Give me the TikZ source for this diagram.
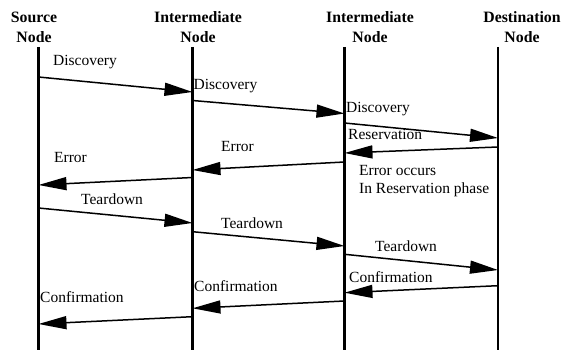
\documentclass[tikz,border=0pt]{standalone}
\usepackage{fontspec}
\setmainfont{Liberation Serif}
\usetikzlibrary{arrows.meta}
\tikzset{
  lifeline/.style = {line width=2.6pt},
  msg/.style = {line width=1.5pt, -{Triangle[length=28pt,width=13pt]}},
  msglabel/.style = {anchor=west, inner sep=0pt, text height=0.7em, text depth=0.2em,
    font=\fontsize{15.5}{18}\selectfont},
  header/.style = {align=center, inner sep=0pt, font=\bfseries\fontsize{15.8}{20}\selectfont}
}
\begin{document}
\begin{tikzpicture}[x=1pt, y=-1pt]
  \useasboundingbox (0,0) rectangle (563,350);
  % participants
  \node[header] (src) at (34,27)  {Source\\Node};
  \node[header] (im1) at (198,27) {Intermediate\\Node};
  \node[header] (im2) at (370,27) {Intermediate\\Node};
  \node[header] (dst) at (522,27) {Destination\\Node};
  % lifelines
  \foreach \n/\x in {src/38.5, im1/192.5, im2/344.5, dst/498} {
    \coordinate (\n top) at (\x,47);
    \coordinate (\n bot) at (\x,350);
    \draw[lifeline] (\n top) -- (\n bot);
  }
  % messages: no / from / y / to / y / label x / label y / text
  \foreach \i/\a/\ya/\b/\yb/\lx/\ly/\txt in {
      1/src/77/im1/92/53/63/Discovery,
      2/im1/100.5/im2/113.5/193.5/87/Discovery,
      3/im2/123/dst/138/346/110/Discovery,
      4/dst/147/im2/153/348/137/Reservation,
      5/im2/162/im1/170/221/149/Error,
      6/im1/177.5/src/185/54/160/Error,
      7/src/208/im1/223/81/202.5/Teardown,
      8/im1/231.7/im2/246/221/226/Teardown,
      9/im2/254.3/dst/270/375/249.5/Teardown,
      10/dst/285.7/im2/292.7/349/280/Confirmation,
      11/im2/301/im1/308.3/194/289/Confirmation,
      12/im1/316.7/src/324/40/299.5/Confirmation} {
    \coordinate (m\i a) at (\a top |- 0,\ya);
    \coordinate (m\i b) at (\b top |- 0,\yb);
    \draw[msg] (m\i a) -- (m\i b);
    \node[msglabel] (l\i) at (\lx,\ly) {\txt};
  }
  % note
  \node[anchor=west, inner sep=0pt, align=left, font=\fontsize{15.5}{18}\selectfont]
    (note) at (359,181) {Error occurs\\In Reservation phase};
\end{tikzpicture}
\end{document}
